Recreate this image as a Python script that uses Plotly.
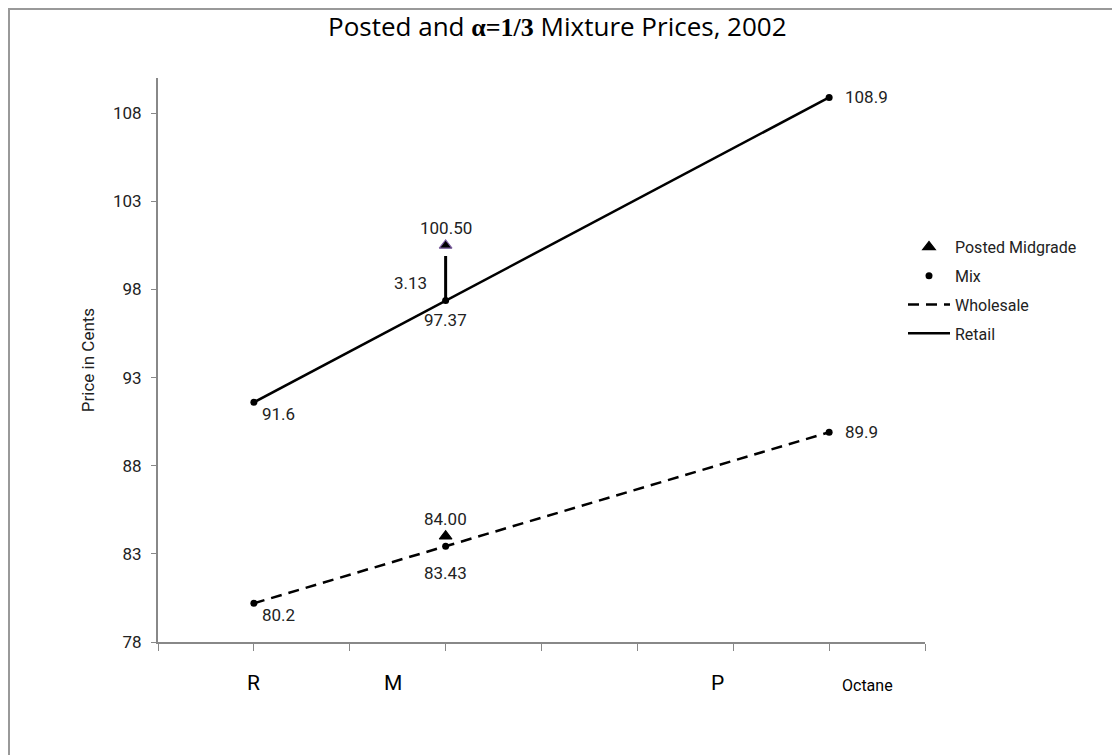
import plotly.graph_objects as go

# ---- data ----
grade_x = [1, 3, 7]                    # R, M (alpha=1/3), P positions on octane axis
retail_ends = [91.6, 108.9]
wholesale_ends = [80.2, 89.9]
retail_mix = 97.37
wholesale_mix = 83.43
posted_mid_retail = 100.50
posted_mid_wholesale = 84.00
axis_labels = ["R", "M", "P", "Octane"]
axis_label_x = [1, 2.45, 5.84, 7.4]
y_ticks = [78, 83, 88, 93, 98, 103, 108]

FONT = "Roboto, Arial, sans-serif"
NARROW = "'Liberation Sans Narrow', Roboto, sans-serif"

W, H = 1112, 747
L, R, T, B = 150, 195, 70, 113
PW, PH = W - L - R, H - T - B

ends_x = [grade_x[0], grade_x[2]]
fig = go.Figure()

fig.add_trace(go.Scatter(
    x=[grade_x[1], grade_x[1]], y=[posted_mid_wholesale, posted_mid_retail],
    mode="markers", name="Posted Midgrade", legendgroup="a",
    marker=dict(symbol="triangle-up", size=11, color="black",
                line=dict(color=["black", "#7a5c9e"], width=1.2)),
))
fig.add_trace(go.Scatter(
    x=[grade_x[0], grade_x[1], grade_x[2], None, grade_x[0], grade_x[1], grade_x[2]],
    y=[retail_ends[0], retail_mix, retail_ends[1], None,
       wholesale_ends[0], wholesale_mix, wholesale_ends[1]],
    mode="markers", name="Mix", legendgroup="b",
    marker=dict(symbol="circle", size=7, color="black"),
))
fig.add_trace(go.Scatter(
    x=ends_x, y=wholesale_ends, mode="lines", name="Wholesale", legendgroup="c",
    line=dict(color="black", width=2.5, dash="11px,7px"),
))
fig.add_trace(go.Scatter(
    x=ends_x, y=retail_ends, mode="lines", name="Retail", legendgroup="d",
    line=dict(color="black", width=2.5),
))

# arrow from mix to posted midgrade (retail)
fig.add_shape(type="line", xref="x", yref="y",
              x0=grade_x[1], x1=grade_x[1], y0=retail_mix, y1=posted_mid_retail - 0.6,
              line=dict(color="black", width=3), layer="below")

ann = []
def lab(x, y, text, xshift=0, yshift=0, xanchor="center"):
    ann.append(dict(x=x, y=y, xref="x", yref="y", text=text, showarrow=False,
                    xshift=xshift, yshift=yshift, xanchor=xanchor,
                    font=dict(family=FONT, size=17, color="#222")))

lab(grade_x[0], retail_ends[0], f"{retail_ends[0]:.1f}", xshift=6, yshift=-12, xanchor="left")
lab(grade_x[0], wholesale_ends[0], f"{wholesale_ends[0]:.1f}", xshift=6, yshift=-12, xanchor="left")
lab(grade_x[2], retail_ends[1], f"{retail_ends[1]:.1f}", xshift=14, xanchor="left")
lab(grade_x[2], wholesale_ends[1], f"{wholesale_ends[1]:.1f}", xshift=14, xanchor="left")
lab(grade_x[1], retail_mix, f"{retail_mix:.2f}", yshift=-19)
lab(grade_x[1], wholesale_mix, f"{wholesale_mix:.2f}", yshift=-27)
lab(grade_x[1], posted_mid_retail, f"{posted_mid_retail:.2f}", yshift=17)
lab(grade_x[1], posted_mid_wholesale, f"{posted_mid_wholesale:.2f}", yshift=17)
lab(grade_x[1], (retail_mix + posted_mid_retail) / 2,
    f"{posted_mid_retail - retail_mix:.2f}", xshift=-35, yshift=-10)

for t, xv in zip(axis_labels, axis_label_x):
    ann.append(dict(x=xv, y=-55 / PH, xref="x", yref="paper", text=t, showarrow=False,
                    font=dict(family=NARROW, size=21 if t != "Octane" else 16, color="black")))

fig.update_layout(
    width=W, height=H,
    margin=dict(l=L, r=R, t=T, b=B),
    paper_bgcolor="white", plot_bgcolor="white",
    title=dict(
        text="Posted and <b><span style='font-family:\"Liberation Serif\", serif'>α=1/3</span></b> Mixture Prices, 2002",
        x=0.494, xref="container", xanchor="center", y=1 - 19 / H, yref="container", yanchor="middle",
        font=dict(family="'Open Sans', sans-serif", size=26, color="black")),
    xaxis=dict(range=[0, 8], tickmode="linear", tick0=0, dtick=1, showticklabels=False,
               ticks="outside", ticklen=7, tickcolor="#888", showgrid=False,
               showline=True, linecolor="#888", linewidth=2, zeroline=False, fixedrange=True),
    yaxis=dict(range=[78, 110], tickvals=y_ticks, ticks="outside", ticklen=5, tickcolor="#888",
               showgrid=False, showline=True, linecolor="#888", linewidth=2, zeroline=False,
               tickfont=dict(family=FONT, size=17, color="#222"), ticklabelstandoff=6,
               title=dict(text="Price in Cents", font=dict(family=NARROW, size=17, color="#222"),
                          standoff=14)),
    legend=dict(x=745 / PW, y=1 - 152 / PH, xanchor="left", yanchor="top", bgcolor="rgba(0,0,0,0)",
                font=dict(family=FONT, size=16, color="#222"), tracegroupgap=5,
                itemwidth=42),
    annotations=ann,
    showlegend=True,
)
fig.add_shape(type="rect", xref="paper", yref="paper",
              x0=(-L + 1) / PW, x1=(PW + R + 5) / PW, y0=(-B - 5) / PH, y1=(PH + T - 1) / PH,
              line=dict(color="#999", width=2), fillcolor="rgba(0,0,0,0)")

fig.write_html("out.html")
